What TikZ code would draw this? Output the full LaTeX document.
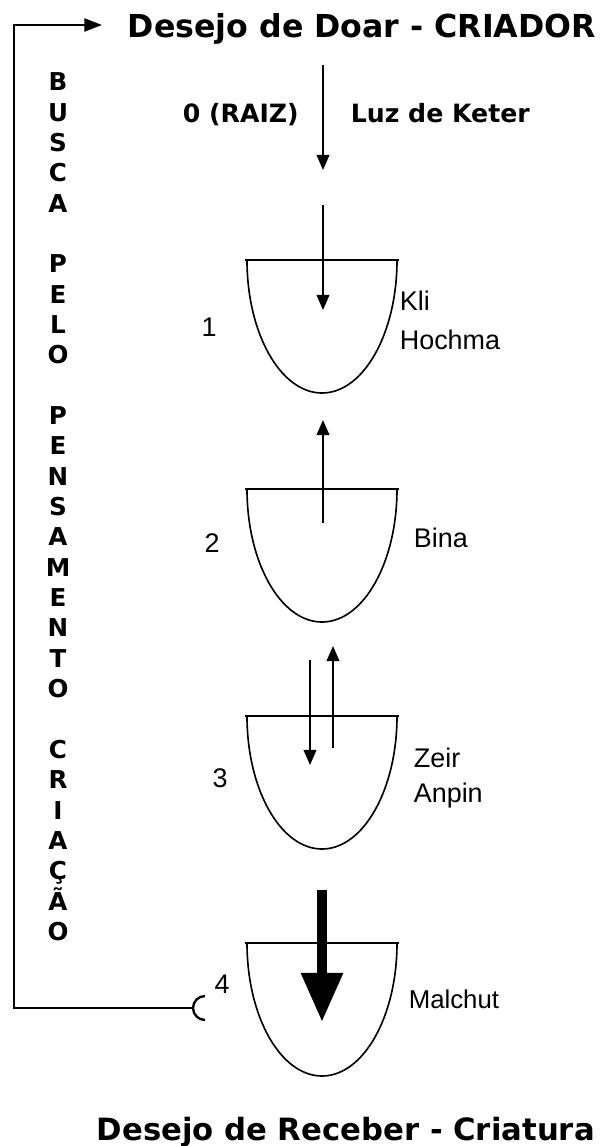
\documentclass[tikz,border=0pt]{standalone}
\usepackage{fontspec}
\setmainfont{Liberation Sans}
\newfontfamily\tahoma{DejaVu Sans}
\usetikzlibrary{arrows.meta}

\tikzset{
  flow/.style={-{Triangle[length=13pt,width=11pt]},line width=1.3pt},
  bigtitle/.style={anchor=base west,inner sep=0pt,font=\tahoma\bfseries\fontsize{27}{32}\selectfont},
  boldtxt/.style={inner sep=0pt,font=\tahoma\bfseries\fontsize{21.5}{26}\selectfont},
  sefira/.style={inner sep=0pt,font=\fontsize{23}{30}\selectfont}
}

\begin{document}
\begin{tikzpicture}[x=0.03cm,y=-0.03cm,line width=1.4pt]
  \useasboundingbox (0,0) rectangle (603,1146);
  \node[bigtitle] (doar) at (127,37) {Desejo de Doar - CRIADOR};
  \node[bigtitle,font=\tahoma\bfseries\fontsize{26.2}{31}\selectfont] (receber) at (96,1140) {Desejo de Receber - Criatura};
  \node[boldtxt,anchor=base west] (raiz) at (182,122) {0 (RAIZ)};
  \node[boldtxt,anchor=base west] (keter) at (350,122) {Luz de Keter};
  \node[boldtxt,anchor=north,align=center,font=\tahoma\bfseries\fontsize{21}{25.9}\selectfont] (busca) at (58,72)
    {B\\U\\S\\C\\A\\[25.9pt]P\\E\\L\\O\\[25.9pt]P\\E\\N\\S\\A\\M\\E\\N\\T\\O\\[25.9pt]C\\R\\I\\A\\Ç\\Ã\\O};

  % vessels
  \foreach \top in {260,489,716,943} {
    \draw (245,\top) -- (399,\top);
    \draw (247,\top) arc[start angle=180,end angle=0,x radius=75,y radius=133];
  }
  \node[sefira] (n1) at (209,327) {1};
  \node[sefira] (n2) at (212,543) {2};
  \node[sefira] (n3) at (220,778) {3};
  \node[sefira] (n4) at (222,984) {4};
  \node[sefira,anchor=north west,align=left,font=\fontsize{23}{33}\selectfont] (hochma) at (399,290) {Kli\\Hochma};
  \node[sefira,anchor=base west] (bina) at (413,547) {Bina};
  \node[sefira,anchor=north west,align=left] (zeir) at (413,747) {Zeir\\Anpin};
  \node[sefira,anchor=base west,font=\fontsize{22}{28}\selectfont] (malchut) at (408,1008) {Malchut};

  % light
  \coordinate (k0) at (323,65);  \coordinate (k0e) at (323,170);
  \coordinate (k1) at (323,205); \coordinate (k1e) at (323,310);
  \coordinate (k2) at (323,523); \coordinate (k2e) at (323,420);
  \coordinate (k3) at (310,660); \coordinate (k3e) at (310,765);
  \coordinate (r3) at (333,748); \coordinate (r3e) at (333,646);
  \coordinate (k4) at (322,890); \coordinate (k4e) at (322,1022);
  \draw[flow] (k0) -- (k0e);
  \draw[flow] (k1) -- (k1e);
  \draw[flow] (k2) -- (k2e);
  \draw[flow] (k3) -- (k3e);
  \draw[flow] (r3) -- (r3e);
  \draw[-{Triangle[length=42pt,width=34pt]},line width=8.5pt] (k4) -- (k4e);

  % return path
  \coordinate (sock) at (193,1008);
  \coordinate (corner) at (14,1008);
  \coordinate (back) at (102,25);
  \draw[line width=2pt,-{Triangle[length=15pt,width=11pt]}] (sock) -- (corner) |- (back);
  \draw[line width=2pt] (205,996) arc[start angle=270,end angle=90,radius=12];
\end{tikzpicture}
\end{document}
